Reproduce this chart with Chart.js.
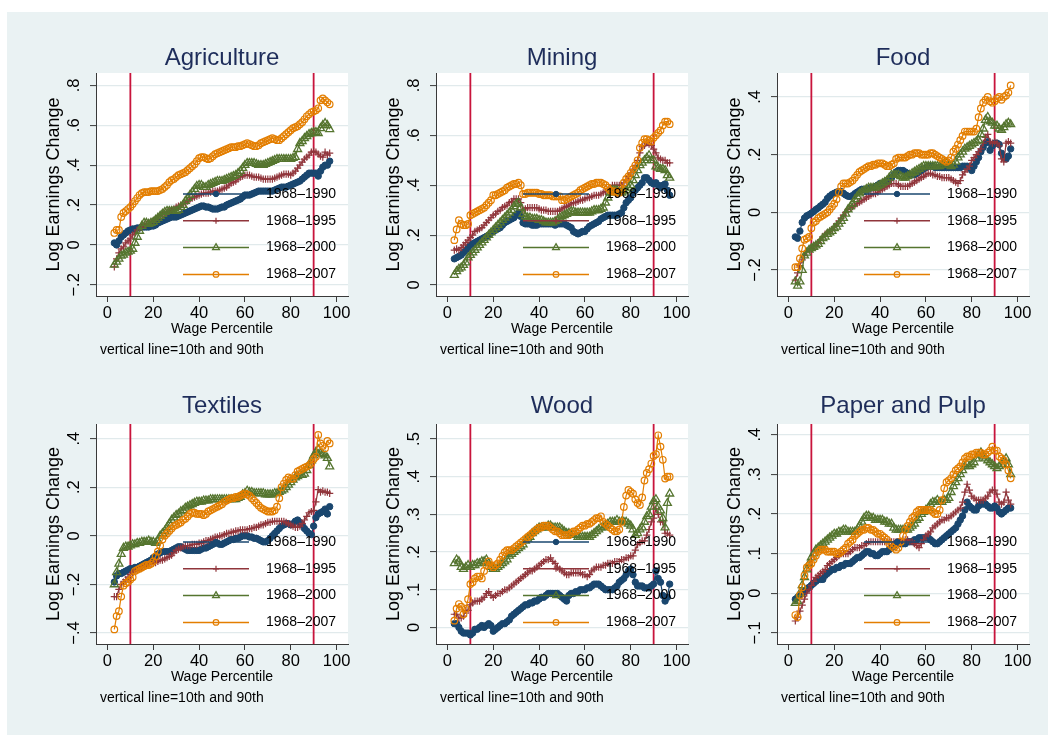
<!DOCTYPE html>
<html>
<head>
<meta charset="utf-8">
<title>Log Earnings Change by Wage Percentile</title>
<script src="https://cdn.jsdelivr.net/npm/chart.js@4.4.1/dist/chart.umd.min.js"></script>
<style>
  html, body { margin: 0; padding: 0; width: 1048px; height: 735px; overflow: hidden; background: #ffffff; }
  #frame { position: absolute; left: 7px; top: 12px; width: 1041px; height: 723px; background: #eaf2f3; }
  canvas { position: absolute; }
</style>
</head>
<body>
<div id="frame"></div>
<script>
// Wage percentiles on the horizontal axis
const percentiles = [
   3, 4, 5, 6, 7, 8, 9,10,11,12,
  13,14,15,16,17,18,19,20,21,22,
  23,24,25,26,27,28,29,30,31,32,
  33,34,35,36,37,38,39,40,41,42,
  43,44,45,46,47,48,49,50,51,52,
  53,54,55,56,57,58,59,60,61,62,
  63,64,65,66,67,68,69,70,71,72,
  73,74,75,76,77,78,79,80,81,82,
  83,84,85,86,87,88,89,90,91,92,
  93,94,95,96,97
];

const seriesLabels = ['1968\u20131990', '1968\u20131995', '1968\u20132000', '1968\u20132007'];
const xTicks = [0, 20, 40, 60, 80, 100];
const refLines = [10, 90];

// Agriculture
const agri1990 = [
  0.01,0.00,0.02,0.04,0.05,0.06,0.07,0.075,0.08,0.08,
  0.085,0.085,0.09,0.09,0.09,0.09,0.095,0.095,0.10,0.11,
  0.115,0.12,0.125,0.13,0.135,0.14,0.14,0.14,0.145,0.15,
  0.155,0.16,0.165,0.17,0.175,0.18,0.185,0.19,0.195,0.195,
  0.19,0.19,0.185,0.18,0.18,0.18,0.185,0.19,0.19,0.20,
  0.205,0.21,0.215,0.22,0.225,0.23,0.24,0.25,0.25,0.25,
  0.255,0.26,0.265,0.27,0.27,0.27,0.27,0.27,0.27,0.27,
  0.275,0.28,0.285,0.29,0.29,0.29,0.295,0.30,0.305,0.31,
  0.315,0.32,0.33,0.34,0.35,0.36,0.36,0.36,0.36,0.345,
  0.37,0.39,0.40,0.40,0.42
];
const agri1995 = [
  -0.11,-0.07,-0.04,-0.02,-0.01,0.01,0.02,0.03,0.05,0.06,
  0.075,0.085,0.09,0.10,0.105,0.11,0.115,0.12,0.13,0.14,
  0.145,0.15,0.16,0.165,0.17,0.175,0.18,0.19,0.195,0.20,
  0.205,0.21,0.22,0.23,0.235,0.24,0.245,0.25,0.255,0.26,
  0.26,0.26,0.265,0.27,0.27,0.27,0.275,0.28,0.285,0.29,
  0.30,0.31,0.315,0.32,0.33,0.34,0.345,0.35,0.35,0.35,
  0.345,0.34,0.34,0.34,0.335,0.33,0.33,0.33,0.33,0.33,
  0.335,0.34,0.345,0.35,0.355,0.355,0.355,0.35,0.36,0.37,
  0.385,0.40,0.415,0.43,0.44,0.45,0.465,0.47,0.465,0.455,
  0.445,0.44,0.465,0.45,0.46
];
const agri2000 = [
  -0.10,-0.085,-0.07,-0.055,-0.05,-0.04,-0.035,-0.03,-0.02,0.01,
  0.04,0.07,0.095,0.11,0.11,0.105,0.11,0.115,0.125,0.135,
  0.145,0.155,0.165,0.17,0.17,0.17,0.17,0.17,0.175,0.19,
  0.20,0.22,0.235,0.25,0.265,0.28,0.295,0.30,0.30,0.29,
  0.29,0.30,0.305,0.31,0.315,0.32,0.32,0.32,0.325,0.33,
  0.335,0.34,0.345,0.35,0.36,0.37,0.385,0.40,0.41,0.41,
  0.41,0.41,0.405,0.40,0.40,0.40,0.405,0.41,0.415,0.42,
  0.425,0.43,0.43,0.43,0.43,0.43,0.43,0.43,0.435,0.44,
  0.48,0.51,0.52,0.535,0.545,0.555,0.56,0.565,0.565,0.56,
  0.585,0.60,0.61,0.60,0.58
];
const agri2007 = [
  0.06,0.075,0.075,0.14,0.16,0.17,0.18,0.19,0.205,0.22,
  0.235,0.25,0.26,0.265,0.265,0.265,0.27,0.27,0.27,0.27,
  0.275,0.28,0.29,0.30,0.315,0.325,0.33,0.34,0.35,0.355,
  0.36,0.365,0.375,0.385,0.395,0.405,0.42,0.435,0.44,0.44,
  0.435,0.43,0.435,0.445,0.455,0.46,0.465,0.47,0.475,0.48,
  0.485,0.49,0.49,0.49,0.495,0.495,0.50,0.505,0.51,0.505,
  0.50,0.495,0.495,0.50,0.51,0.515,0.52,0.525,0.53,0.535,
  0.53,0.525,0.525,0.535,0.545,0.555,0.565,0.575,0.585,0.59,
  0.595,0.605,0.615,0.63,0.645,0.655,0.665,0.67,0.675,0.685,
  0.725,0.735,0.725,0.715,0.705
];

// Mining
const mine1990 = [
  0.105,0.11,0.115,0.12,0.13,0.14,0.15,0.16,0.165,0.17,
  0.175,0.18,0.185,0.19,0.195,0.20,0.21,0.215,0.22,0.225,
  0.23,0.24,0.25,0.255,0.26,0.265,0.27,0.28,0.29,0.275,
  0.25,0.245,0.245,0.245,0.24,0.24,0.24,0.245,0.245,0.245,
  0.245,0.245,0.245,0.245,0.24,0.245,0.245,0.245,0.245,0.24,
  0.235,0.23,0.215,0.21,0.205,0.21,0.215,0.215,0.225,0.235,
  0.24,0.245,0.25,0.255,0.265,0.27,0.275,0.28,0.28,0.28,
  0.28,0.28,0.285,0.29,0.31,0.33,0.34,0.35,0.37,0.38,
  0.39,0.40,0.41,0.43,0.43,0.42,0.41,0.405,0.41,0.40,
  0.39,0.40,0.405,0.38,0.36
];
const mine1995 = [
  0.14,0.145,0.14,0.15,0.16,0.17,0.18,0.19,0.20,0.215,
  0.22,0.225,0.23,0.24,0.25,0.26,0.27,0.28,0.285,0.295,
  0.30,0.31,0.315,0.32,0.33,0.335,0.345,0.345,0.345,0.33,
  0.30,0.305,0.31,0.31,0.31,0.31,0.31,0.305,0.30,0.30,
  0.30,0.295,0.295,0.295,0.295,0.295,0.30,0.305,0.31,0.315,
  0.32,0.325,0.33,0.33,0.335,0.34,0.34,0.345,0.35,0.35,
  0.355,0.36,0.36,0.36,0.365,0.37,0.375,0.38,0.39,0.40,
  0.40,0.40,0.40,0.40,0.41,0.42,0.435,0.45,0.465,0.48,
  0.50,0.53,0.555,0.56,0.57,0.565,0.56,0.545,0.53,0.51,
  0.505,0.50,0.50,0.49,0.49
];
const mine2000 = [
  0.04,0.055,0.065,0.07,0.08,0.09,0.11,0.12,0.13,0.14,
  0.15,0.16,0.17,0.18,0.19,0.20,0.21,0.22,0.23,0.24,
  0.25,0.26,0.27,0.28,0.29,0.30,0.315,0.325,0.33,0.31,
  0.285,0.275,0.27,0.27,0.265,0.265,0.265,0.26,0.26,0.255,
  0.25,0.25,0.25,0.25,0.255,0.26,0.27,0.275,0.28,0.285,
  0.29,0.295,0.295,0.29,0.29,0.29,0.29,0.29,0.29,0.29,
  0.295,0.30,0.30,0.30,0.305,0.31,0.33,0.35,0.37,0.38,
  0.38,0.38,0.375,0.37,0.375,0.38,0.39,0.40,0.42,0.44,
  0.46,0.48,0.49,0.50,0.51,0.52,0.50,0.50,0.475,0.47,
  0.465,0.465,0.46,0.44,0.43
];
const mine2007 = [
  0.18,0.223,0.26,0.245,0.24,0.24,0.245,0.28,0.285,0.29,
  0.295,0.30,0.305,0.31,0.32,0.33,0.34,0.36,0.36,0.365,
  0.37,0.375,0.38,0.39,0.395,0.40,0.405,0.405,0.41,0.40,
  0.365,0.365,0.37,0.37,0.37,0.37,0.37,0.365,0.365,0.36,
  0.36,0.36,0.36,0.355,0.355,0.355,0.355,0.34,0.34,0.345,
  0.35,0.355,0.36,0.365,0.37,0.38,0.385,0.39,0.395,0.40,
  0.405,0.405,0.41,0.41,0.41,0.405,0.40,0.39,0.38,0.375,
  0.375,0.37,0.37,0.38,0.41,0.425,0.435,0.45,0.465,0.48,
  0.50,0.55,0.57,0.585,0.585,0.58,0.575,0.59,0.60,0.61,
  0.62,0.64,0.655,0.655,0.645
];

// Food
const food1990 = [
  -0.085,-0.09,-0.065,-0.035,-0.02,-0.012,-0.008,-0.003,0.003,0.01,
  0.015,0.022,0.028,0.035,0.048,0.056,0.062,0.066,0.07,0.072,
  0.072,0.066,0.06,0.056,0.055,0.058,0.065,0.07,0.075,0.08,
  0.08,0.08,0.08,0.085,0.085,0.09,0.095,0.10,0.10,0.105,
  0.11,0.115,0.12,0.13,0.14,0.145,0.145,0.145,0.14,0.135,
  0.13,0.13,0.13,0.135,0.14,0.145,0.15,0.155,0.16,0.16,
  0.16,0.155,0.155,0.155,0.155,0.155,0.155,0.155,0.155,0.155,
  0.155,0.155,0.155,0.16,0.16,0.16,0.155,0.145,0.16,0.175,
  0.19,0.21,0.225,0.24,0.245,0.215,0.23,0.24,0.24,0.235,
  0.205,0.19,0.185,0.195,0.22
];
const food1995 = [
  -0.235,-0.21,-0.185,-0.165,-0.15,-0.135,-0.13,-0.125,-0.12,-0.115,
  -0.105,-0.095,-0.085,-0.075,-0.07,-0.065,-0.06,-0.05,-0.04,-0.03,
  -0.02,-0.01,0.00,0.01,0.015,0.02,0.025,0.03,0.035,0.04,
  0.045,0.05,0.055,0.06,0.065,0.065,0.07,0.075,0.08,0.085,
  0.09,0.095,0.10,0.10,0.10,0.095,0.09,0.09,0.09,0.09,
  0.095,0.10,0.105,0.11,0.115,0.12,0.125,0.13,0.135,0.135,
  0.13,0.13,0.125,0.125,0.12,0.12,0.12,0.12,0.115,0.11,
  0.105,0.10,0.11,0.13,0.14,0.15,0.16,0.18,0.19,0.20,
  0.21,0.22,0.24,0.26,0.27,0.245,0.24,0.245,0.24,0.23,
  0.185,0.175,0.24,0.245,0.24
];
const food2000 = [
  -0.24,-0.255,-0.24,-0.20,-0.15,-0.14,-0.13,-0.125,-0.12,-0.115,
  -0.11,-0.10,-0.09,-0.085,-0.075,-0.07,-0.065,-0.055,-0.05,-0.04,
  -0.03,-0.02,-0.005,0.01,0.02,0.03,0.045,0.055,0.065,0.07,
  0.075,0.08,0.085,0.085,0.085,0.085,0.09,0.095,0.10,0.105,
  0.11,0.12,0.13,0.13,0.13,0.13,0.125,0.12,0.12,0.125,
  0.13,0.135,0.14,0.145,0.15,0.155,0.16,0.16,0.16,0.16,
  0.16,0.16,0.16,0.16,0.165,0.17,0.17,0.165,0.16,0.165,
  0.175,0.19,0.20,0.21,0.22,0.225,0.23,0.235,0.24,0.245,
  0.25,0.27,0.29,0.32,0.33,0.315,0.31,0.30,0.30,0.29,
  0.285,0.295,0.305,0.31,0.305
];
const food2007 = [
  -0.19,-0.19,-0.16,-0.125,-0.095,-0.09,-0.085,-0.055,-0.035,-0.03,
  -0.02,-0.015,-0.01,-0.005,0.00,0.01,0.02,0.03,0.045,0.07,
  0.09,0.10,0.10,0.10,0.105,0.11,0.12,0.13,0.14,0.145,
  0.15,0.155,0.16,0.16,0.165,0.165,0.17,0.17,0.17,0.165,
  0.16,0.16,0.165,0.17,0.185,0.19,0.19,0.19,0.19,0.195,
  0.20,0.20,0.205,0.205,0.205,0.20,0.20,0.20,0.20,0.205,
  0.205,0.20,0.195,0.19,0.185,0.18,0.175,0.18,0.19,0.21,
  0.22,0.235,0.25,0.265,0.28,0.28,0.28,0.28,0.28,0.29,
  0.33,0.36,0.38,0.39,0.40,0.385,0.38,0.385,0.395,0.40,
  0.39,0.40,0.405,0.415,0.44
];

// Textiles
const text1990 = [
  -0.19,-0.165,-0.155,-0.155,-0.15,-0.145,-0.14,-0.135,-0.135,-0.13,
  -0.13,-0.125,-0.12,-0.115,-0.11,-0.105,-0.10,-0.09,-0.085,-0.075,
  -0.07,-0.065,-0.065,-0.065,-0.065,-0.06,-0.055,-0.05,-0.045,-0.045,
  -0.05,-0.055,-0.06,-0.06,-0.06,-0.06,-0.06,-0.06,-0.055,-0.05,
  -0.05,-0.045,-0.04,-0.035,-0.03,-0.03,-0.035,-0.035,-0.03,-0.025,
  -0.02,-0.015,-0.015,-0.01,-0.01,-0.005,0.00,0.00,0.00,-0.005,
  -0.005,-0.01,-0.01,-0.015,-0.02,-0.025,-0.025,-0.02,-0.01,0.00,
  0.01,0.02,0.03,0.04,0.045,0.05,0.05,0.045,0.05,0.06,
  0.065,0.055,0.045,0.03,0.02,0.01,0.005,0.04,0.075,0.09,
  0.095,0.10,0.11,0.09,0.12
];
const text1995 = [
  -0.25,-0.25,-0.22,-0.20,-0.19,-0.18,-0.17,-0.16,-0.15,-0.145,
  -0.14,-0.135,-0.13,-0.125,-0.12,-0.115,-0.115,-0.11,-0.11,-0.105,
  -0.10,-0.10,-0.095,-0.09,-0.085,-0.08,-0.07,-0.06,-0.055,-0.05,
  -0.045,-0.04,-0.04,-0.04,-0.035,-0.035,-0.035,-0.03,-0.03,-0.025,
  -0.02,-0.02,-0.015,-0.01,-0.005,-0.005,0.00,0.00,0.005,0.01,
  0.01,0.015,0.015,0.02,0.02,0.025,0.025,0.025,0.025,0.03,
  0.03,0.035,0.035,0.04,0.045,0.045,0.05,0.055,0.055,0.06,
  0.06,0.06,0.06,0.06,0.06,0.055,0.05,0.045,0.04,0.035,
  0.035,0.04,0.05,0.065,0.08,0.095,0.10,0.105,0.14,0.19,
  0.18,0.185,0.18,0.18,0.175
];
const text2000 = [
  -0.20,-0.15,-0.115,-0.075,-0.05,-0.045,-0.045,-0.04,-0.035,-0.035,
  -0.03,-0.03,-0.025,-0.025,-0.025,-0.02,-0.025,-0.025,-0.03,-0.02,
  0.00,0.01,0.02,0.035,0.05,0.065,0.075,0.085,0.09,0.10,
  0.105,0.115,0.12,0.125,0.13,0.135,0.14,0.14,0.14,0.145,
  0.145,0.145,0.15,0.15,0.15,0.15,0.15,0.15,0.15,0.15,
  0.15,0.15,0.15,0.15,0.155,0.16,0.17,0.175,0.185,0.18,
  0.18,0.175,0.175,0.175,0.175,0.175,0.17,0.17,0.17,0.17,
  0.175,0.175,0.18,0.185,0.19,0.20,0.21,0.22,0.23,0.24,
  0.245,0.25,0.25,0.255,0.27,0.29,0.31,0.33,0.345,0.355,
  0.34,0.335,0.33,0.32,0.285
];
const text2007 = [
  -0.385,-0.33,-0.31,-0.25,-0.205,-0.195,-0.19,-0.18,-0.17,-0.145,
  -0.14,-0.135,-0.13,-0.125,-0.12,-0.12,-0.115,-0.105,-0.085,-0.065,
  -0.04,-0.015,0.00,0.01,0.02,0.03,0.04,0.045,0.05,0.055,
  0.065,0.07,0.08,0.09,0.095,0.095,0.09,0.09,0.09,0.085,
  0.09,0.10,0.105,0.11,0.115,0.12,0.125,0.13,0.14,0.145,
  0.15,0.155,0.155,0.16,0.16,0.165,0.17,0.175,0.17,0.165,
  0.155,0.145,0.135,0.125,0.115,0.11,0.105,0.10,0.10,0.10,
  0.105,0.12,0.155,0.20,0.215,0.23,0.24,0.235,0.235,0.25,
  0.265,0.27,0.275,0.28,0.285,0.29,0.30,0.315,0.325,0.415,
  0.38,0.37,0.36,0.39,0.38
];

// Wood
const wood1990 = [
  0.01,0.01,0.00,-0.01,-0.015,-0.015,-0.015,-0.02,-0.015,-0.005,
  -0.005,0.00,0.005,0.00,0.005,0.01,0.005,-0.01,-0.005,0.00,
  0.005,0.01,0.01,0.015,0.02,0.03,0.035,0.04,0.045,0.05,
  0.055,0.06,0.06,0.065,0.065,0.07,0.07,0.075,0.08,0.08,
  0.085,0.09,0.09,0.09,0.09,0.09,0.085,0.08,0.075,0.07,
  0.085,0.09,0.09,0.095,0.095,0.10,0.10,0.10,0.105,0.105,
  0.11,0.115,0.115,0.115,0.11,0.105,0.10,0.10,0.10,0.10,
  0.105,0.11,0.12,0.125,0.13,0.14,0.15,0.155,0.14,0.12,
  0.11,0.11,0.11,0.105,0.105,0.105,0.11,0.115,0.15,0.13,
  0.12,0.085,0.07,0.08,0.115
];
const wood1995 = [
  0.035,0.035,0.025,0.025,0.03,0.045,0.045,0.06,0.065,0.07,
  0.07,0.07,0.075,0.08,0.09,0.095,0.085,0.08,0.085,0.09,
  0.09,0.095,0.10,0.10,0.105,0.11,0.115,0.12,0.125,0.13,
  0.135,0.14,0.145,0.15,0.15,0.155,0.16,0.165,0.17,0.175,
  0.18,0.18,0.185,0.175,0.17,0.16,0.155,0.15,0.145,0.14,
  0.14,0.145,0.145,0.145,0.145,0.145,0.14,0.14,0.135,0.14,
  0.15,0.155,0.16,0.16,0.16,0.165,0.165,0.17,0.17,0.17,
  0.175,0.175,0.175,0.18,0.18,0.185,0.185,0.19,0.19,0.205,
  0.22,0.225,0.23,0.23,0.245,0.26,0.28,0.29,0.315,0.30,
  0.28,0.28,0.25,0.25,0.245
];
const wood2000 = [
  0.17,0.18,0.175,0.16,0.155,0.16,0.165,0.16,0.165,0.165,
  0.17,0.17,0.175,0.175,0.18,0.17,0.16,0.155,0.155,0.16,
  0.165,0.17,0.175,0.18,0.19,0.195,0.20,0.205,0.21,0.215,
  0.22,0.23,0.235,0.24,0.25,0.255,0.26,0.265,0.265,0.265,
  0.265,0.27,0.27,0.265,0.265,0.265,0.265,0.26,0.255,0.25,
  0.25,0.245,0.245,0.245,0.24,0.24,0.24,0.24,0.24,0.24,
  0.245,0.25,0.255,0.26,0.265,0.265,0.27,0.275,0.28,0.28,
  0.28,0.285,0.28,0.28,0.28,0.28,0.275,0.27,0.26,0.245,
  0.25,0.26,0.265,0.28,0.295,0.30,0.32,0.335,0.34,0.32,
  0.31,0.29,0.265,0.33,0.355
];
const wood2007 = [
  0.018,0.05,0.062,0.055,0.035,0.05,0.075,0.115,0.12,0.13,
  0.135,0.135,0.13,0.15,0.165,0.175,0.165,0.16,0.165,0.17,
  0.18,0.19,0.20,0.205,0.205,0.205,0.21,0.215,0.22,0.225,
  0.23,0.235,0.24,0.245,0.25,0.255,0.26,0.265,0.265,0.27,
  0.27,0.27,0.265,0.26,0.255,0.255,0.25,0.245,0.245,0.245,
  0.245,0.25,0.255,0.255,0.26,0.265,0.27,0.27,0.275,0.275,
  0.28,0.285,0.29,0.29,0.295,0.28,0.275,0.27,0.265,0.26,
  0.255,0.255,0.26,0.28,0.32,0.35,0.365,0.36,0.355,0.34,
  0.33,0.325,0.345,0.39,0.41,0.42,0.435,0.455,0.46,0.51,
  0.48,0.445,0.395,0.40,0.40
];

// Paper and Pulp
const paper1990 = [
  -0.015,-0.01,-0.005,0.00,0.005,0.01,0.015,0.02,0.025,0.03,
  0.035,0.035,0.035,0.045,0.05,0.055,0.06,0.06,0.065,0.065,
  0.07,0.07,0.075,0.075,0.075,0.08,0.085,0.09,0.09,0.095,
  0.10,0.105,0.105,0.10,0.10,0.095,0.095,0.10,0.105,0.105,
  0.105,0.11,0.115,0.12,0.125,0.13,0.125,0.125,0.125,0.13,
  0.13,0.13,0.135,0.135,0.14,0.14,0.14,0.14,0.14,0.135,
  0.13,0.125,0.125,0.13,0.135,0.14,0.145,0.15,0.155,0.16,
  0.165,0.175,0.185,0.195,0.21,0.23,0.22,0.215,0.21,0.21,
  0.22,0.225,0.225,0.225,0.22,0.215,0.215,0.22,0.215,0.205,
  0.20,0.205,0.21,0.215,0.215
];
const paper1995 = [
  -0.07,-0.06,-0.045,-0.03,-0.015,0.00,0.01,0.02,0.03,0.04,
  0.045,0.05,0.055,0.06,0.07,0.075,0.08,0.085,0.09,0.095,
  0.10,0.10,0.10,0.10,0.105,0.11,0.115,0.115,0.115,0.12,
  0.12,0.125,0.13,0.13,0.13,0.13,0.13,0.13,0.13,0.13,
  0.13,0.13,0.13,0.13,0.13,0.13,0.13,0.135,0.135,0.135,
  0.13,0.13,0.125,0.12,0.115,0.125,0.135,0.145,0.15,0.155,
  0.165,0.17,0.175,0.18,0.185,0.185,0.19,0.19,0.195,0.20,
  0.205,0.21,0.215,0.23,0.255,0.275,0.26,0.245,0.24,0.235,
  0.235,0.235,0.235,0.24,0.245,0.255,0.26,0.26,0.25,0.23,
  0.225,0.23,0.255,0.235,0.225
];
const paper2000 = [
  -0.025,-0.02,0.00,0.02,0.04,0.06,0.075,0.09,0.10,0.11,
  0.115,0.12,0.125,0.13,0.135,0.14,0.145,0.15,0.15,0.155,
  0.155,0.16,0.16,0.155,0.155,0.155,0.155,0.16,0.17,0.18,
  0.19,0.195,0.195,0.19,0.19,0.185,0.185,0.185,0.185,0.18,
  0.18,0.175,0.175,0.165,0.16,0.16,0.16,0.16,0.16,0.16,
  0.165,0.17,0.175,0.185,0.19,0.20,0.205,0.21,0.215,0.225,
  0.23,0.23,0.235,0.23,0.23,0.235,0.235,0.24,0.255,0.27,
  0.28,0.29,0.30,0.31,0.32,0.325,0.32,0.325,0.33,0.34,
  0.35,0.355,0.345,0.34,0.335,0.33,0.325,0.32,0.315,0.32,
  0.325,0.335,0.34,0.325,0.30
];
const paper2007 = [
  -0.055,-0.06,-0.005,0.015,0.045,0.065,0.07,0.075,0.085,0.095,
  0.105,0.11,0.11,0.11,0.105,0.105,0.105,0.105,0.10,0.10,
  0.105,0.11,0.115,0.125,0.13,0.135,0.145,0.15,0.155,0.16,
  0.16,0.165,0.165,0.16,0.16,0.155,0.15,0.15,0.145,0.14,
  0.135,0.125,0.12,0.115,0.11,0.115,0.13,0.145,0.16,0.17,
  0.18,0.19,0.195,0.205,0.21,0.21,0.21,0.21,0.21,0.21,
  0.205,0.20,0.20,0.21,0.235,0.265,0.28,0.285,0.29,0.30,
  0.31,0.315,0.32,0.33,0.34,0.345,0.345,0.35,0.35,0.355,
  0.355,0.355,0.35,0.35,0.355,0.36,0.37,0.36,0.36,0.345,
  0.34,0.335,0.325,0.31,0.29
];

// Vertical-axis ticks of each panel
const agriTicks  = [-0.2, 0, 0.2, 0.4, 0.6, 0.8];
const mineTicks  = [0, 0.2, 0.4, 0.6, 0.8];
const foodTicks  = [-0.2, 0, 0.2, 0.4];
const textTicks  = [-0.4, -0.2, 0, 0.2, 0.4];
const woodTicks  = [0, 0.1, 0.2, 0.3, 0.4, 0.5];
const paperTicks = [-0.1, 0, 0.1, 0.2, 0.3, 0.4];

// ---- styling ----
const FONT = '"Liberation Sans", Arial, Helvetica, sans-serif';
const seriesColors = ['#1a476f', '#90353b', '#55752f', '#e37e00'];
const markers = [
  { style: 'circle',   radius: 3.2, filled: true,  width: 1.0 },
  { style: 'cross',    radius: 3.6, filled: false, width: 1.2 },
  { style: 'triangle', radius: 4.6, filled: false, width: 1.3 },
  { style: 'circle',   radius: 3.3, filled: false, width: 1.2 }
];
const AXIS_COLOR = '#3a3a3a';
const GRID_COLOR = '#e1eaec';
const TICK_SIZE = 16.5;
const TITLE_SIZE = 24;
const Y_AXIS_W = 53, X_AXIS_H = 42, TITLE_BOX = 36, NOTE_BOX = 24, PAD_RIGHT = 8;

// area = plot region [left, top, right, bottom]; titleGap = distance from title middle to plot top
const panels = [
  { title: 'Agriculture',    series: [agri1990, agri1995, agri2000, agri2007],     ticks: agriTicks,  min: -0.256, max: 0.862, area: [96, 73, 348, 296],    titleGap: 15 },
  { title: 'Mining',         series: [mine1990, mine1995, mine2000, mine2007],     ticks: mineTicks,  min: -0.044, max: 0.850, area: [436, 73, 688, 296],   titleGap: 15 },
  { title: 'Food',           series: [food1990, food1995, food2000, food2007],     ticks: foodTicks,  min: -0.290, max: 0.483, area: [777, 73, 1029, 296],  titleGap: 15 },
  { title: 'Textiles',       series: [text1990, text1995, text2000, text2007],     ticks: textTicks,  min: -0.445, max: 0.460, area: [96, 424, 348, 644],   titleGap: 17.5 },
  { title: 'Wood',           series: [wood1990, wood1995, wood2000, wood2007],     ticks: woodTicks,  min: -0.044, max: 0.540, area: [436, 424, 688, 644],  titleGap: 17.5 },
  { title: 'Paper and Pulp', series: [paper1990, paper1995, paper2000, paper2007], ticks: paperTicks, min: -0.128, max: 0.427, area: [777, 424, 1029, 644], titleGap: 17.5 }
];

// Tick labels without the leading zero, negative values with a minus sign
function tickText(v) {
  if (Math.abs(v) < 1e-9) return '0';
  const s = Math.abs(v).toFixed(1).replace(/^0/, '');
  return (v < 0 ? '\u2212' : '') + s;
}

const measureCtx = document.createElement('canvas').getContext('2d');
function widestText(labels, size) {
  measureCtx.font = size + 'px ' + FONT;
  return Math.max(...labels.map(l => measureCtx.measureText(l).width));
}

// White plot region
const plotBackground = {
  id: 'plotBackground',
  beforeDraw(chart) {
    const { ctx, chartArea: a } = chart;
    ctx.save();
    ctx.fillStyle = '#ffffff';
    ctx.fillRect(a.left, a.top, a.width, a.height);
    ctx.restore();
  }
};

// Vertical lines at the 10th and 90th percentiles
const percentileLines = {
  id: 'percentileLines',
  beforeDatasetsDraw(chart, args, opts) {
    const { ctx, chartArea: a, scales: { x } } = chart;
    ctx.save();
    ctx.strokeStyle = opts.color;
    ctx.lineWidth = opts.width;
    ctx.beginPath();
    for (const v of opts.values) {
      const px = x.getPixelForValue(v);
      ctx.moveTo(px, a.top);
      ctx.lineTo(px, a.bottom);
    }
    ctx.stroke();
    ctx.restore();
  }
};

// Legend placed inside the plot region: line sample with marker, then label
const insideLegend = {
  id: 'insideLegend',
  afterDatasetsDraw(chart, args, opts) {
    const { ctx, chartArea: a } = chart;
    chart.data.datasets.forEach((ds, i) => {
      const y = a.bottom - opts.firstFromBottom + i * opts.rowGap;
      const x0 = a.left + opts.lineStart;
      const x1 = x0 + opts.lineLength;
      ctx.save();
      ctx.strokeStyle = ds.borderColor;
      ctx.lineWidth = opts.lineWidth;
      ctx.beginPath();
      ctx.moveTo(x0, y);
      ctx.lineTo(x1, y);
      ctx.stroke();
      ctx.fillStyle = ds.pointBackgroundColor;
      ctx.strokeStyle = ds.pointBorderColor;
      ctx.lineWidth = ds.pointBorderWidth;
      Chart.helpers.drawPoint(ctx, {
        pointStyle: ds.pointStyle,
        radius: ds.pointRadius * opts.markerScale,
        rotation: 0,
        borderWidth: ds.pointBorderWidth
      }, (x0 + x1) / 2, y);
      ctx.fillStyle = opts.color;
      ctx.font = opts.fontSize + 'px ' + FONT;
      ctx.textAlign = 'left';
      ctx.textBaseline = 'middle';
      ctx.fillText(ds.label, a.left + opts.textStart, y);
      ctx.restore();
    });
  }
};

panels.forEach(p => {
  const [left, top, right, bottom] = p.area;
  const canvas = document.createElement('canvas');
  const cw = (right - left) + Y_AXIS_W + PAD_RIGHT;
  const ch = (bottom - top) + TITLE_BOX + X_AXIS_H + NOTE_BOX;
  canvas.width = cw;
  canvas.height = ch;
  canvas.style.left = (left - Y_AXIS_W) + 'px';
  canvas.style.top = (top - TITLE_BOX) + 'px';
  canvas.style.width = cw + 'px';
  canvas.style.height = ch + 'px';
  document.body.appendChild(canvas);

  const yLabels = p.ticks.map(tickText);
  const yPad = 16 - widestText(yLabels, TICK_SIZE) / 2;

  // title box keeps a fixed height; its inner padding sets the gap above the plot
  const titleLine = TITLE_SIZE * 1.2;
  const titlePadBottom = p.titleGap - titleLine / 2;
  const titlePadTop = TITLE_BOX - titleLine - titlePadBottom;

  const datasets = p.series.map((values, i) => ({
    label: seriesLabels[i],
    data: percentiles.map((pc, k) => ({ x: pc, y: values[k] })),
    borderColor: seriesColors[i],
    backgroundColor: seriesColors[i],
    borderWidth: 1.2,
    pointStyle: markers[i].style,
    pointRadius: markers[i].radius,
    pointBorderWidth: markers[i].width,
    pointBorderColor: seriesColors[i],
    pointBackgroundColor: markers[i].filled ? seriesColors[i] : 'rgba(0,0,0,0)',
    tension: 0,
    fill: false,
    order: 4 - i
  }));

  new Chart(canvas, {
    type: 'line',
    data: { datasets },
    options: {
      responsive: false,
      animation: false,
      events: [],
      layout: { padding: { left: 0, right: PAD_RIGHT, top: 0, bottom: 0 } },
      scales: {
        x: {
          type: 'linear',
          min: -5,
          max: 105,
          afterBuildTicks: s => { s.ticks = xTicks.map(v => ({ value: v })); },
          afterFit: s => { s.height = X_AXIS_H; },
          ticks: { font: { family: FONT, size: TICK_SIZE }, color: '#000', padding: 1.1, autoSkip: false, maxRotation: 0, minRotation: 0 },
          grid: { display: true, drawOnChartArea: false, drawTicks: true, tickLength: 6, tickColor: AXIS_COLOR, tickWidth: 1 },
          border: { display: true, color: AXIS_COLOR, width: 1 },
          title: { display: true, text: 'Wage Percentile', color: '#000', font: { family: FONT, size: 14 }, padding: { top: 0, bottom: 0 } }
        },
        y: {
          type: 'linear',
          min: p.min,
          max: p.max,
          afterBuildTicks: s => { s.ticks = p.ticks.map(v => ({ value: v })); },
          afterFit: s => { s.width = Y_AXIS_W; },
          ticks: {
            font: { family: FONT, size: TICK_SIZE }, color: '#000',
            padding: yPad, minRotation: 90, maxRotation: 90, crossAlign: 'center', autoSkip: false,
            callback: v => tickText(v)
          },
          grid: { color: GRID_COLOR, lineWidth: 1.2, drawTicks: true, tickLength: 6, tickColor: AXIS_COLOR, tickWidth: 1 },
          border: { display: true, color: AXIS_COLOR, width: 1 },
          title: { display: true, text: 'Log Earnings Change', color: '#000', font: { family: FONT, size: 18 }, padding: { top: 0, bottom: 0 } }
        }
      },
      plugins: {
        legend: { display: false },
        tooltip: { enabled: false },
        title: {
          display: true, text: p.title, fullSize: false, color: '#1e2d5a',
          font: { family: FONT, size: TITLE_SIZE, weight: 'normal' },
          padding: { top: titlePadTop, bottom: titlePadBottom }
        },
        subtitle: {
          display: true, text: ' vertical line=10th and 90th', position: 'bottom', align: 'start', fullSize: false,
          color: '#000', font: { family: FONT, size: 14, weight: 'normal' },
          padding: { top: 3.6, bottom: 3.6 }
        },
        percentileLines: { values: refLines, color: '#c8143c', width: 1.8 },
        insideLegend: {
          firstFromBottom: 102, rowGap: 26.8, lineStart: 87, lineLength: 66, textStart: 170,
          lineWidth: 1.5, markerScale: 0.85, fontSize: 14, color: '#000'
        }
      }
    },
    plugins: [plotBackground, percentileLines, insideLegend]
  });
});
</script>
</body>
</html>
